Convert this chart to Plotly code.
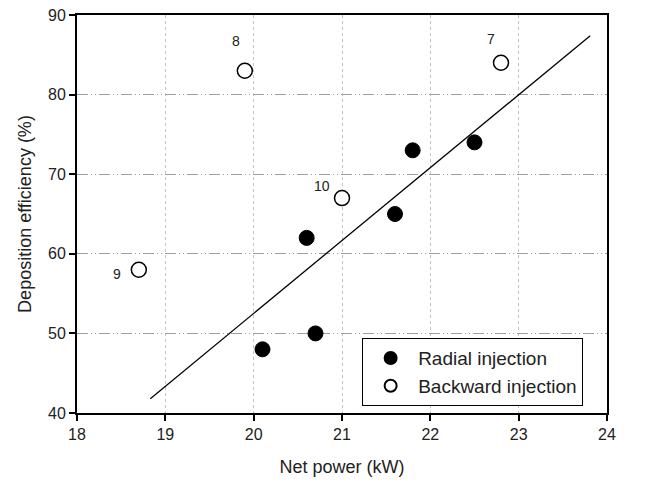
import plotly.graph_objects as go

radial_x = [20.1, 20.7, 20.6, 21.6, 21.8, 22.5]
radial_y = [48, 50, 62, 65, 73, 74]
backward_x = [18.7, 19.9, 21.0, 22.8]
backward_y = [58, 83, 67, 84]
backward_labels = ["9", "8", "10", "7"]
label_shift_x = [-22, -9, -20, -10]
label_shift_y = [-4, 30, 12, 24]
fit_x = [18.83, 23.81]
fit_y = [41.8, 87.4]

fig = go.Figure()
fig.add_trace(go.Scatter(x=fit_x, y=fit_y, mode="lines", line=dict(color="black", width=1.3),
                         showlegend=False, hoverinfo="skip"))
fig.add_trace(go.Scatter(x=radial_x, y=radial_y, mode="markers", name="Radial injection",
                         marker=dict(symbol="circle", size=15, color="black",
                                     line=dict(color="black", width=1))))
fig.add_trace(go.Scatter(x=backward_x, y=backward_y, mode="markers", name="Backward injection",
                         marker=dict(symbol="circle", size=15, color="white",
                                     line=dict(color="black", width=1.5))))

for x, y, t, dx, dy in zip(backward_x, backward_y, backward_labels, label_shift_x, label_shift_y):
    fig.add_annotation(x=x, y=y, text=t, showarrow=False, xshift=dx, yshift=dy,
                       font=dict(size=14, color="#222"))

font = "Liberation Sans, Arial, sans-serif"
fig.update_layout(
    width=663, height=483,
    margin=dict(l=77, r=56, t=15, b=70),
    paper_bgcolor="white", plot_bgcolor="white",
    font=dict(family=font, size=15, color="#222"),
    showlegend=True,
    legend=dict(x=0.538, y=0.188, xanchor="left", yanchor="top",
                bordercolor="black", borderwidth=1, bgcolor="white",
                font=dict(size=19, color="#222"), itemsizing="constant",
                itemwidth=45, tracegroupgap=0),
    xaxis=dict(range=[18, 24], dtick=1, tick0=18, showline=True, linecolor="black", linewidth=1.8,
               mirror=True, ticks="outside", ticklen=6, tickcolor="black", tickwidth=1.5,
               showgrid=True, gridcolor="#c4c4c4", griddash="dot", gridwidth=1, automargin=False,
               zeroline=False, title=dict(text="Net power (kW)", font=dict(size=18), standoff=18),
               tickfont=dict(size=16)),
    yaxis=dict(range=[40, 90], dtick=10, tick0=40, showline=True, linecolor="black", linewidth=1.8,
               mirror=True, ticks="outside", ticklen=6, tickcolor="black", tickwidth=1.5,
               showgrid=True, gridcolor="#a0a0a0", griddash="11px,3px,1px,3px,1px,3px", gridwidth=1,
               automargin=False,
               zeroline=False, title=dict(text="Deposition efficiency (%)", font=dict(size=18), standoff=12),
               tickfont=dict(size=16)),
)
fig.write_html("out.html")
